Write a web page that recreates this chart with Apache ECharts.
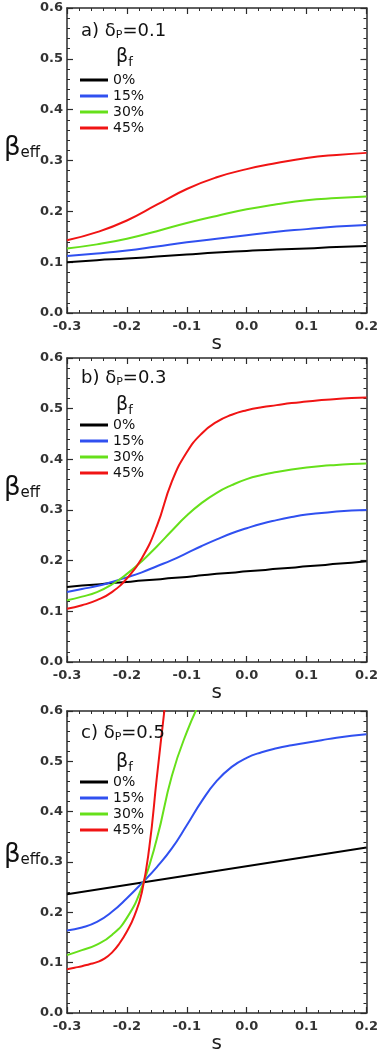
<!DOCTYPE html>
<html>
<head>
<meta charset="utf-8">
<script src="https://cdn.jsdelivr.net/npm/echarts@6/dist/echarts.min.js"></script>
<style>
  html, body { margin: 0; padding: 0; background: #fff; }
  #chart { width: 381px; height: 1057px; }
</style>
</head>
<body>
<div id="chart"></div>
<script>
// s values and beta_eff readings for each panel
var legendNames = ['0%', '15%', '30%', '45%'];
var lineColors = ['#000000', '#3050f0', '#66e01a', '#f01414'];
var panelLabels = ['a) δ{p|P}=0.1', 'b) δ{p|P}=0.3', 'c) δ{p|P}=0.5'];

// panel a) deltaP = 0.1
var sA = [-0.3, -0.25, -0.2, -0.15, -0.1, -0.05, 0, 0.05, 0.1, 0.15, 0.2];
var a0 = [0.100, 0.104, 0.107, 0.111, 0.115, 0.119, 0.122, 0.125, 0.127, 0.130, 0.132];
var a15 = [0.112, 0.117, 0.123, 0.131, 0.139, 0.146, 0.153, 0.160, 0.165, 0.170, 0.173];
var a30 = [0.127, 0.135, 0.146, 0.161, 0.177, 0.191, 0.204, 0.214, 0.222, 0.226, 0.229];
var a45 = [0.143, 0.159, 0.182, 0.213, 0.244, 0.267, 0.283, 0.295, 0.305, 0.311, 0.315];

// panel b) deltaP = 0.3
var sB = [-0.3, -0.275, -0.25, -0.225, -0.2, -0.175, -0.15, -0.125, -0.1, -0.075, -0.05,
          -0.025, 0, 0.025, 0.05, 0.075, 0.1, 0.125, 0.15, 0.175, 0.2];
var b0 = [0.148, 0.151, 0.153, 0.156, 0.158, 0.161, 0.163, 0.166, 0.168, 0.171, 0.174,
          0.176, 0.179, 0.181, 0.184, 0.186, 0.189, 0.191, 0.194, 0.196, 0.199];
var b15 = [0.138, 0.144, 0.150, 0.158, 0.167, 0.177, 0.189, 0.201, 0.215, 0.229, 0.242,
           0.254, 0.264, 0.273, 0.280, 0.286, 0.291, 0.294, 0.297, 0.299, 0.300];
var b30 = [0.122, 0.129, 0.138, 0.153, 0.174, 0.199, 0.228, 0.259, 0.289, 0.314, 0.334,
           0.349, 0.361, 0.369, 0.375, 0.380, 0.384, 0.387, 0.389, 0.391, 0.392];
var b45 = [0.105, 0.112, 0.122, 0.138, 0.165, 0.205, 0.268, 0.356, 0.414, 0.451, 0.474,
           0.488, 0.497, 0.503, 0.507, 0.511, 0.514, 0.517, 0.519, 0.521, 0.522];

// panel c) deltaP = 0.5
var sC0 = [-0.3, 0.2];
var c0 = [0.236, 0.329];
var sC15 = [-0.3, -0.275, -0.25, -0.225, -0.2, -0.175, -0.15, -0.125, -0.1, -0.075, -0.05,
            -0.025, 0, 0.025, 0.05, 0.075, 0.1, 0.125, 0.15, 0.175, 0.2];
var c15 = [0.164, 0.170, 0.181, 0.201, 0.228, 0.258, 0.290, 0.327, 0.373, 0.421, 0.461,
           0.489, 0.507, 0.518, 0.526, 0.532, 0.537, 0.542, 0.547, 0.551, 0.554];
var sC30 = [-0.3, -0.275, -0.25, -0.225, -0.2, -0.175, -0.15, -0.125, -0.1, -0.075];
var c30 = [0.115, 0.125, 0.136, 0.155, 0.189, 0.250, 0.346, 0.471, 0.558, 0.625];
var sC45 = [-0.3, -0.2875, -0.275, -0.2625, -0.25, -0.2375, -0.225, -0.2125, -0.2,
            -0.1875, -0.175, -0.1625, -0.15, -0.1375, -0.125];
var c45 = [0.087, 0.090, 0.093, 0.097, 0.101, 0.108, 0.120, 0.138, 0.162,
           0.193, 0.240, 0.330, 0.468, 0.600, 0.730];

var panelS = [[sA, sA, sA, sA], [sB, sB, sB, sB], [sC0, sC15, sC30, sC45]];
var panelV = [[a0, a15, a30, a45], [b0, b15, b30, b45], [c0, c15, c30, c45]];

var gridTops = [8, 358, 711];
var gridHeights = [305, 304, 302];
var titleY = [17, 364, 719];
var betaFY = [41, 389, 746];
var legendY = [67, 412, 769];
var betaEffY = [130, 470, 837];

var fontFam = 'DejaVu Sans';
var frameColor = '#2b2b2b';

function fmt(v) { return v.toFixed(1); }
function zip(xs, ys) {
    var out = [];
    for (var i = 0; i < xs.length; i++) out.push([xs[i], ys[i]]);
    return out;
}

var grids = [], xAxes = [], yAxes = [], series = [], titles = [], legends = [];

for (var p = 0; p < 3; p++) {
    grids.push({ left: 67, right: 12, top: gridTops[p], height: gridHeights[p] });

    var common = {
        type: 'value', gridIndex: p,
        axisLine: { show: true, onZero: false, lineStyle: { color: frameColor, width: 1.5 } },
        axisTick: { show: true, inside: true, length: 6, lineStyle: { color: frameColor, width: 1.2 } },
        minorTick: { show: true, splitNumber: 5, length: 3, lineStyle: { color: frameColor, width: 1 } },
        splitLine: { show: false }
    };

    xAxes.push(Object.assign({}, common, {
        position: 'bottom', min: -0.3, max: 0.2, interval: 0.1,
        name: 's', nameLocation: 'middle', nameGap: 20,
        nameTextStyle: { fontFamily: fontFam, fontSize: 20, color: '#222' },
        axisLabel: { formatter: fmt, margin: 7, fontFamily: fontFam, fontSize: 13, fontWeight: 'bold', color: '#333' }
    }));
    xAxes.push(Object.assign({}, common, {
        position: 'top', min: -0.3, max: 0.2, interval: 0.1,
        axisLabel: { show: false }
    }));
    yAxes.push(Object.assign({}, common, {
        position: 'left', min: 0, max: 0.6, interval: 0.1,
        axisLabel: { formatter: fmt, margin: 4, fontFamily: fontFam, fontSize: 13, fontWeight: 'bold', color: '#333' }
    }));
    yAxes.push(Object.assign({}, common, {
        position: 'right', min: 0, max: 0.6, interval: 0.1,
        axisLabel: { show: false }
    }));

    for (var k = 0; k < 4; k++) {
        series.push({
            name: legendNames[k], type: 'line',
            xAxisIndex: p * 2, yAxisIndex: p * 2,
            data: zip(panelS[p][k], panelV[p][k]),
            smooth: 0.5, symbol: 'none',
            lineStyle: { color: lineColors[k], width: 2 },
            itemStyle: { color: lineColors[k] },
            clip: true
        });
    }

    titles.push({
        text: panelLabels[p], left: 76, top: titleY[p],
        textStyle: {
            fontFamily: fontFam, fontSize: 18, fontWeight: 'normal', color: '#111',
            rich: { p: { fontFamily: fontFam, fontSize: 11, color: '#111', padding: [8, 0, 0, 0] } }
        }
    });
    titles.push({
        text: 'β{f|f}', left: 111, top: betaFY[p],
        textStyle: {
            fontFamily: fontFam, fontSize: 19, fontWeight: 'normal', color: '#111',
            rich: { f: { fontFamily: fontFam, fontSize: 13, color: '#111', padding: [10, 0, 0, 0] } }
        }
    });
    titles.push({
        text: 'β{e|eff}', left: -1, top: betaEffY[p],
        textStyle: {
            fontFamily: fontFam, fontSize: 26, fontWeight: 'normal', color: '#111',
            rich: { e: { fontFamily: fontFam, fontSize: 15, color: '#111', padding: [10, 0, 0, 0] } }
        }
    });

    legends.push({
        data: legendNames, orient: 'vertical', left: 75, top: legendY[p],
        icon: 'rect', itemWidth: 28, itemHeight: 3, itemGap: 0,
        selectedMode: false,
        textStyle: { fontFamily: fontFam, fontSize: 14, lineHeight: 16, color: '#111' }
    });
}

var chart = echarts.init(document.getElementById('chart'));
chart.setOption({
    animation: false,
    title: titles,
    legend: legends,
    grid: grids,
    xAxis: xAxes,
    yAxis: yAxes,
    series: series
});
</script>
</body>
</html>
